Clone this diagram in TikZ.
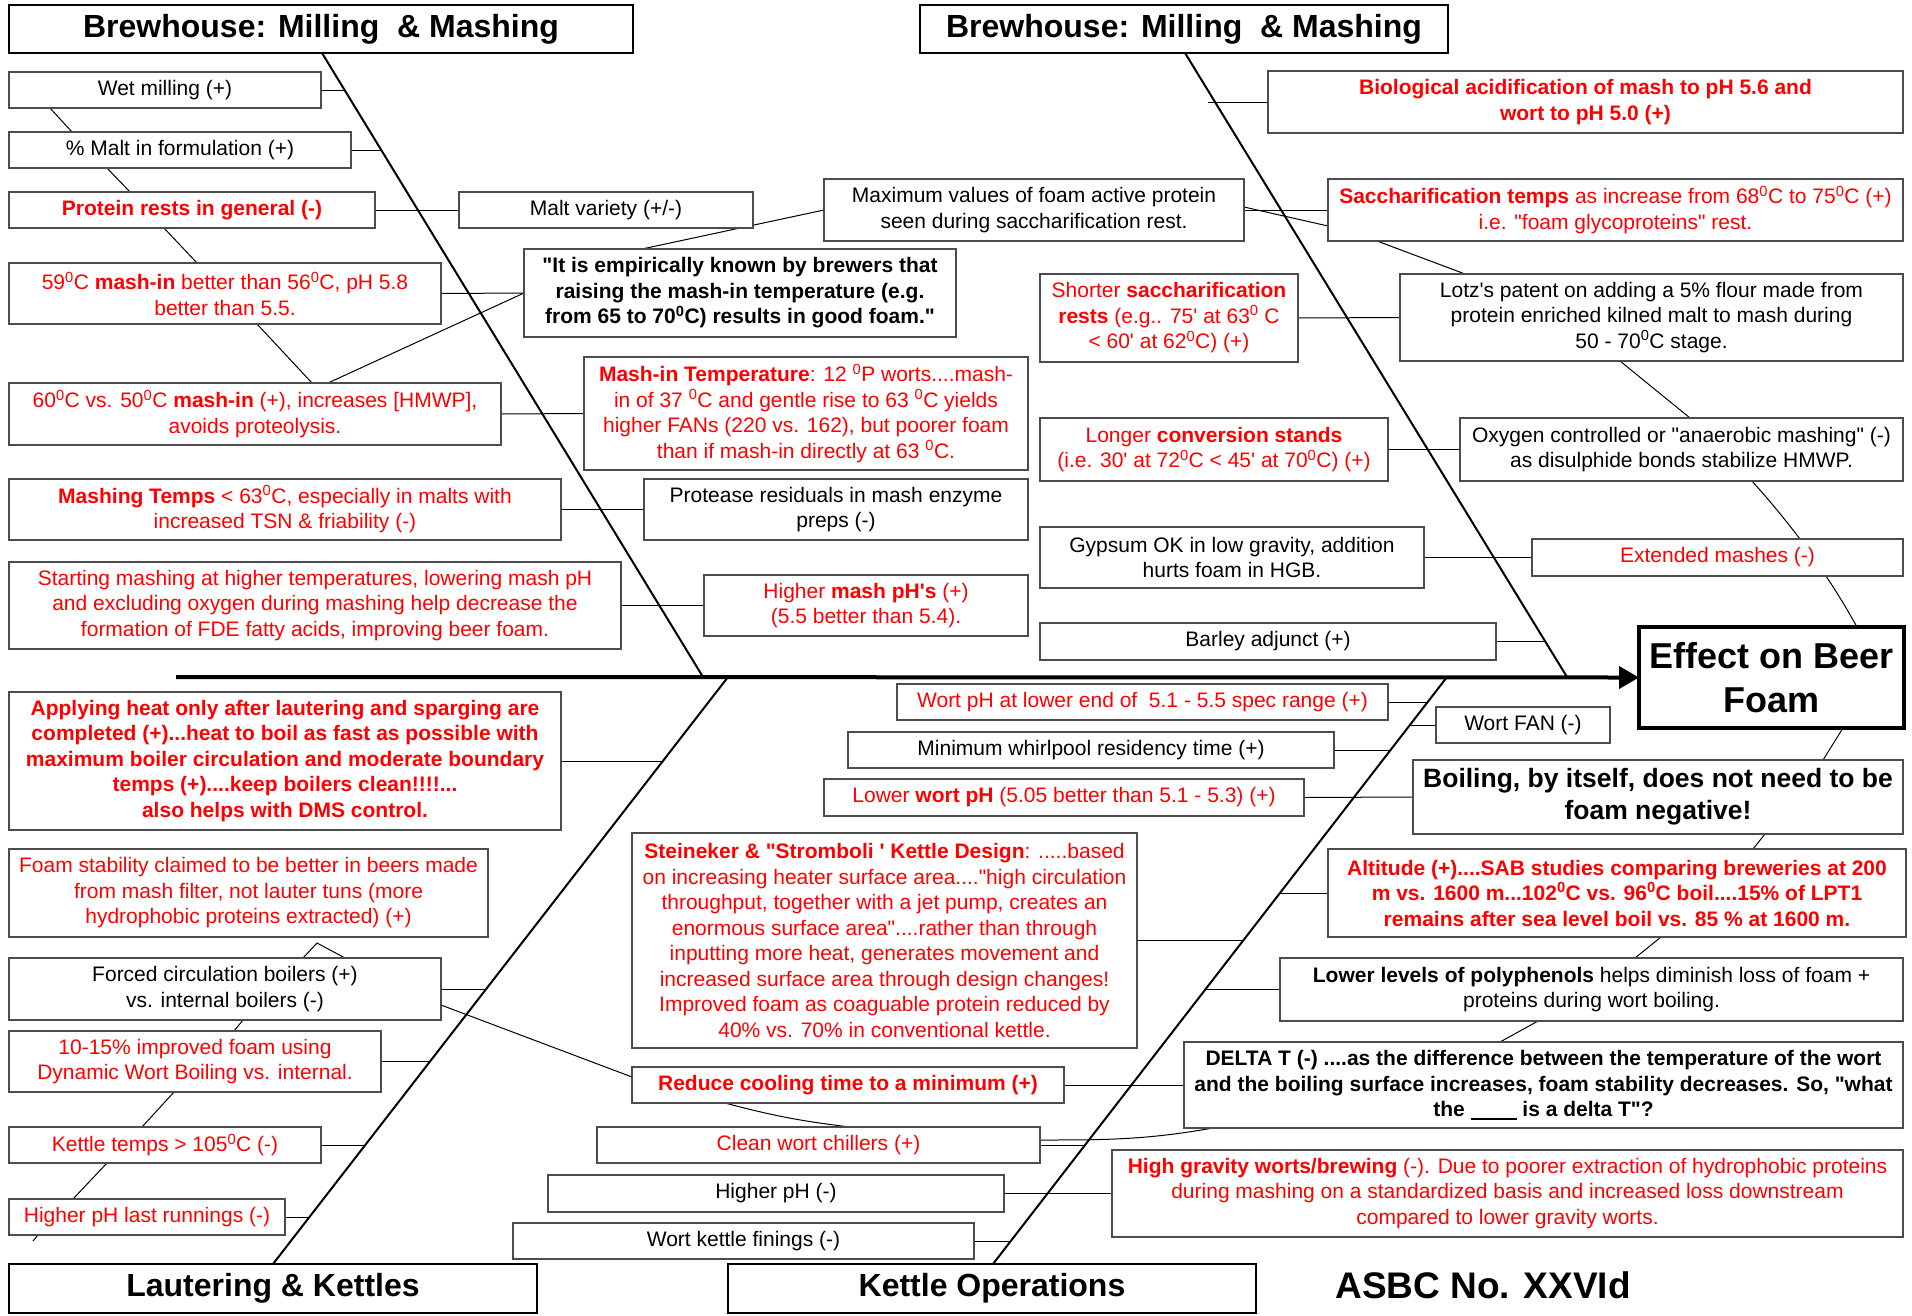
\documentclass[tikz,border=0pt]{standalone}
\usepackage{fontspec}
\setmainfont{Liberation Sans}[Ligatures=TeXOff]
\usetikzlibrary{arrows.meta}
\pgfdeclarelayer{bg}
\pgfsetlayers{bg,main}
\newcommand\degz{\textsuperscript{0}}
\newcommand\fsn{\fontsize{21}{25.5}\selectfont}
\newcommand\fst{\fontsize{32}{38}\selectfont\bfseries}
\tikzset{
  box/.style={draw=black!70, line width=1.3pt, fill=white, inner sep=0pt, outer sep=0pt, align=center, font=\fsn, anchor=north west},
  rbox/.style={box, text=red},
  tbox/.style={draw=black, line width=2.2pt, fill=white, inner sep=0pt, outer sep=0pt, align=center, font=\fst, anchor=north west},
  conn/.style={draw=black, line width=1pt},
  bone/.style={draw=black, line width=2pt},
  spine/.style={draw=black, line width=4pt, -{Triangle[length=20pt,width=22pt]}}
}
\begin{document}
\begin{tikzpicture}[x=1pt,y=-1pt]
\useasboundingbox (0,0) rectangle (1912,1315);
% titles
\node[tbox, minimum width=624pt, minimum height=48pt] (t1) at (9,5) {Brewhouse: Milling\ \ \& Mashing};
\node[tbox, minimum width=528pt, minimum height=48pt] (t2) at (920,5) {Brewhouse: Milling\ \ \& Mashing};
\node[tbox, minimum width=528pt, minimum height=49pt] (t3) at (9,1264) {Lautering \& Kettles};
\node[tbox, minimum width=528pt, minimum height=49pt] (t4) at (728,1264) {Kettle Operations};
% upper left
\node[box, minimum width=312pt, minimum height=36pt] (wet) at (9,72) {Wet milling (+)};
\node[box, minimum width=342pt, minimum height=36pt] (malt) at (9,132) {\% Malt in formulation (+)};
\node[rbox, font=\fsn\bfseries, minimum width=366pt, minimum height=36pt] (prot) at (9,192) {Protein rests in general (-)};
\node[rbox, minimum width=432pt, minimum height=61pt] (m59) at (9,263) {59\degz C \textbf{mash-in} better than 56\degz C, pH 5.8\\better than 5.5.};
\node[rbox, minimum width=492pt, minimum height=62pt] (m60) at (9,383) {60\degz C vs. 50\degz C \textbf{mash-in} (+), increases [HMWP],\\avoids proteolysis.};
\node[rbox, minimum width=552pt, minimum height=61pt] (mtemps) at (9,479) {\textbf{Mashing Temps} < 63\degz C, especially in malts with\\increased TSN \& friability (-)};
\node[rbox, minimum width=612pt, minimum height=87pt] (start) at (9,562) {Starting mashing at higher temperatures, lowering mash pH\\and excluding oxygen during mashing help decrease the\\formation of FDE fatty acids, improving beer foam.};
\node[box, minimum width=294pt, minimum height=36pt] (mvar) at (459,192) {Malt variety (+/-)};
\node[box, font=\fsn\bfseries, minimum width=432pt, minimum height=88pt] (quote) at (524,249) {"It is empirically known by brewers that\\raising the mash-in temperature (e.g.\\from 65 to 70\degz C) results in good foam."};
\node[box, minimum width=420pt, minimum height=62pt] (maxv) at (824,179) {Maximum values of foam active protein\\seen during saccharification rest.};
\node[rbox, minimum width=444pt, minimum height=113pt] (mashin) at (584,357) {\textbf{Mash-in Temperature}: 12 \degz P worts....mash-\\in of 37 \degz C and gentle rise to 63 \degz C yields\\higher FANs (220 vs. 162), but poorer foam\\than if mash-in directly at 63 \degz C.};
\node[box, minimum width=384pt, minimum height=61pt] (prote) at (644,479) {Protease residuals in mash enzyme\\preps (-)};
\node[rbox, minimum width=324pt, minimum height=61pt] (hiph) at (704,575) {Higher \textbf{mash pH's} (+)\\(5.5 better than 5.4).};
% upper right
\node[rbox, font=\fsn\bfseries, minimum width=635pt, minimum height=62pt] (bio) at (1268,71) {Biological acidification of mash to pH 5.6 and\\wort to pH 5.0 (+)};
\node[rbox, minimum width=575pt, minimum height=62pt] (sacch) at (1328,179) {\textbf{Saccharification temps} as increase from 68\degz C to 75\degz C (+)\\i.e. "foam glycoproteins" rest.};
\node[rbox, minimum width=258pt, minimum height=88pt] (short) at (1040,274) {Shorter \textbf{saccharification}\\\textbf{rests} (e.g.. 75' at 63\degz\ C\\< 60' at 62\degz C) (+)};
\node[box, minimum width=503pt, minimum height=87pt] (lotz) at (1400,274) {Lotz's patent on adding a 5\% flour made from\\protein enriched kilned malt to mash during\\50 - 70\degz C stage.};
\node[rbox, minimum width=348pt, minimum height=63pt] (longer) at (1040,418) {Longer \textbf{conversion stands}\\(i.e. 30' at 72\degz C < 45' at 70\degz C) (+)};
\node[box, minimum width=443pt, minimum height=63pt] (oxy) at (1460,418) {Oxygen controlled or "anaerobic mashing" (-)\\as disulphide bonds stabilize HMWP.};
\node[box, minimum width=384pt, minimum height=61pt] (gyp) at (1040,527) {Gypsum OK in low gravity, addition\\hurts foam in HGB.};
\node[rbox, minimum width=371pt, minimum height=37pt] (ext) at (1532,539) {Extended mashes (-)};
\node[box, minimum width=456pt, minimum height=37pt] (barley) at (1040,623) {Barley adjunct (+)};
\node[box, draw=black, line width=3.5pt, font=\fontsize{36}{44}\selectfont\bfseries, minimum width=265pt, minimum height=101pt] (effect) at (1639,627) {Effect on Beer\\Foam};
% lower left
\node[rbox, font=\fsn\bfseries, minimum width=552pt, minimum height=138pt] (apply) at (9,692) {Applying heat only after lautering and sparging are\\completed (+)...heat to boil as fast as possible with\\maximum boiler circulation and moderate boundary\\temps (+)....keep boilers clean!!!!...\\also helps with DMS control.};
\node[rbox, minimum width=479pt, minimum height=88pt] (foamst) at (9,849) {Foam stability claimed to be better in beers made\\from mash filter, not lauter tuns (more\\hydrophobic proteins extracted) (+)};
\node[box, minimum width=432pt, minimum height=62pt] (forced) at (9,958) {Forced circulation boilers (+)\\vs. internal boilers (-)};
\node[rbox, minimum width=372pt, minimum height=61pt] (dyn) at (9,1031) {10-15\% improved foam using\\Dynamic Wort Boiling vs. internal.};
\node[rbox, minimum width=312pt, minimum height=36pt] (ktemp) at (9,1127) {Kettle temps > 105\degz C (-)};
\node[rbox, minimum width=276pt, minimum height=36pt] (lastrun) at (9,1199) {Higher pH last runnings (-)};
% lower middle
\node[rbox, minimum width=491pt, minimum height=36pt] (wph) at (897,684) {Wort pH at lower end of\ \ 5.1 - 5.5 spec range (+)};
\node[box, minimum width=486pt, minimum height=36pt] (whirl) at (848,732) {Minimum whirlpool residency time (+)};
\node[rbox, minimum width=480pt, minimum height=37pt] (lowph) at (824,779) {Lower \textbf{wort pH} (5.05 better than 5.1 - 5.3) (+)};
\node[rbox, minimum width=505pt, minimum height=215pt] (stein) at (632,833) {\textbf{Steineker \& "Stromboli ' Kettle Design}: .....based\\on increasing heater surface area...."high circulation\\throughput, together with a jet pump, creates an\\enormous surface area"....rather than through\\inputting more heat, generates movement and\\increased surface area through design changes!\\Improved foam as coaguable protein reduced by\\40\% vs. 70\% in conventional kettle.};
\node[rbox, font=\fsn\bfseries, minimum width=432pt, minimum height=36pt] (reduce) at (632,1067) {Reduce cooling time to a minimum (+)};
\node[rbox, minimum width=443pt, minimum height=36pt] (clean) at (597,1127) {Clean wort chillers (+)};
\node[box, minimum width=456pt, minimum height=37pt] (hph) at (548,1175) {Higher pH (-)};
\node[box, minimum width=461pt, minimum height=36pt] (fining) at (513,1223) {Wort kettle finings (-)};
% lower right
\node[box, minimum width=174pt, minimum height=36pt] (fan) at (1436,707) {Wort FAN (-)};
\node[box, font=\fontsize{26.5}{32}\selectfont\bfseries, minimum width=490pt, minimum height=74pt] (boil) at (1413,760) {Boiling, by itself, does not need to be\\foam negative!};
\node[rbox, font=\fsn\bfseries, minimum width=578pt, minimum height=88pt] (alt) at (1328,849) {Altitude (+)....SAB studies comparing breweries at 200\\m vs. 1600 m...102\degz C vs. 96\degz C boil....15\% of LPT1\\remains after sea level boil vs. 85 \% at 1600 m.};
\node[box, minimum width=623pt, minimum height=63pt] (poly) at (1280,958) {\textbf{Lower levels of polyphenols} helps diminish loss of foam +\\proteins during wort boiling.};
\node[box, font=\fsn\bfseries, minimum width=719pt, minimum height=86pt] (delta) at (1184,1042) {DELTA T (-) ....as the difference between the temperature of the wort\\and the boiling surface increases, foam stability decreases. So, "what\\the \rule[-3pt]{46pt}{1.8pt} is a delta T"?};
\node[rbox, minimum width=791pt, minimum height=87pt] (hg) at (1112,1150) {\textbf{High gravity worts/brewing} (-). Due to poorer extraction of hydrophobic proteins\\during mashing on a standardized basis and increased loss downstream\\compared to lower gravity worts.};
\node[font=\fontsize{37}{44}\selectfont\bfseries] (asbc) at (1483,1285) {ASBC No. XXVId};
% coordinates
\coordinate (s1) at (703,677);
\coordinate (s2) at (1567,677);
\coordinate (s3) at (728,677);
\coordinate (s4) at (1447,677);
\coordinate (spst) at (176,677);
\coordinate (bw) at (345,90);
\coordinate (bm) at (381,150);
\coordinate (bb) at (1208,102);
\coordinate (bba) at (1545,641.5);
\coordinate (ba) at (663,761);
\coordinate (bf) at (486,989);
\coordinate (bd) at (430,1061.5);
\coordinate (bk) at (365,1145);
\coordinate (bl) at (309,1217);
\coordinate (bp) at (1428,702);
\coordinate (bfan) at (1410,725);
\coordinate (bwh) at (1390.5,750);
\coordinate (bst) at (1243,940.5);
\coordinate (bal) at (1280,893);
\coordinate (bpo) at (1205,989.5);
\coordinate (bcl) at (1085,1145);
\coordinate (bfi) at (1011,1241);
\coordinate (pk) at (317,943);
\coordinate (tl) at (33,1241);
\begin{pgfonlayer}{bg}
\fill[white] (0,0) rectangle (1912,1315);
% bones
\draw[bone] ([xshift=313pt]t1.south west) -- (s1);
\draw[bone] ([xshift=265pt]t2.south west) -- (s2);
\draw[bone] (s3) -- ([xshift=264pt]t3.north west);
\draw[bone] (s4) -- ([xshift=265pt]t4.north west);
\draw[spine] (spst) -- (effect.west);
% upper left
\draw[conn] (wet.east) -- (bw);
\draw[conn] (malt.east) -- (bm);
\draw[conn] (prot.east) -- (mvar.west);
\draw[conn] (m59.east) -- (quote.west);
\draw[conn] (m60.east) -- (mashin.west);
\draw[conn] (mtemps.east) -- (prote.west);
\draw[conn] (start.east) -- (hiph.west);
\draw[conn] ([xshift=41pt]wet.south west) -- ([xshift=63pt]malt.north west);
\draw[conn] ([xshift=98pt]malt.south west) -- ([xshift=121pt]prot.north west);
\draw[conn] ([xshift=155pt]prot.south west) -- ([xshift=188pt]m59.north west);
\draw[conn] ([xshift=248pt]m59.south west) -- ([xshift=303pt]m60.north west);
\draw[conn] ([xshift=319pt]m60.north west) -- (quote.west);
\draw[conn] ([xshift=118pt]quote.north west) -- (maxv.west);
% upper right
\draw[conn] (maxv.east) -- (sacch.west);
\draw[conn] ([yshift=3pt]maxv.east) -- ([yshift=-16pt]sacch.west);
\draw[conn] ([xshift=49pt]sacch.south west) -- ([xshift=65pt]lotz.north west);
\draw[conn] (bb) -- (bio.west);
\draw[conn] (short.east) -- (lotz.west);
\draw[conn] ([xshift=220pt]lotz.south west) -- ([xshift=230pt]oxy.north west);
\draw[conn] (longer.east) -- (oxy.west);
\draw[conn] ([xshift=292pt]oxy.south west) to[bend left=2] ([xshift=268pt]ext.north west);
\draw[conn] ([xshift=294pt]ext.south west) to[bend left=2] ([xshift=218pt]effect.north west);
\draw[conn] (gyp.east) -- (ext.west);
\draw[conn] (barley.east) -- (bba);
% lower right
\draw[conn] ([xshift=204pt]effect.south west) -- ([xshift=410pt]boil.north west);
\draw[conn] ([xshift=352pt]boil.south west) -- ([xshift=425pt]alt.north west);
\draw[conn] ([xshift=333pt]alt.south west) -- ([xshift=355pt]poly.north west);
\draw[conn] ([xshift=258pt]poly.south west) -- ([xshift=316pt]delta.north west);
\draw[conn] (alt.west) -- (bal);
\draw[conn] (poly.west) -- (bpo);
\draw[conn] (delta.west) -- (reduce.east);
\draw[conn] (stein.east) -- (bst);
\draw[conn] (wph.east) -- (bp);
\draw[conn] (bfan) -- (fan.west);
\draw[conn] (whirl.east) -- (bwh);
\draw[conn] (lowph.east) -- (boil.west);
\draw[conn] (clean.east) -- (bcl);
\draw[conn] ([yshift=5pt]clean.east) to[out=0,in=190] ([xshift=29pt]delta.south west);
\draw[conn] (hph.east) -- (hg.west);
\draw[conn] (fining.east) -- (bfi);
\draw[conn] ([xshift=93pt]reduce.south west) to[bend right=4] ([xshift=253pt]clean.north west);
% lower left
\draw[conn] (apply.east) -- (ba);
\draw[conn] ([xshift=294pt]forced.north west) -- (pk) -- ([xshift=336pt]forced.north west);
\draw[conn] (forced.east) -- (bf);
\draw[conn] ([yshift=-16pt]forced.east) -- ([yshift=8pt]reduce.west);
\draw[conn] ([xshift=234pt]forced.south west) -- ([xshift=225pt]dyn.north west);
\draw[conn] (dyn.east) -- (bd);
\draw[conn] ([xshift=165pt]dyn.south west) -- ([xshift=133pt]ktemp.north west);
\draw[conn] (ktemp.east) -- (bk);
\draw[conn] ([xshift=98pt]ktemp.south west) -- ([xshift=64pt]lastrun.north west);
\draw[conn] (lastrun.east) -- (bl);
\draw[conn] ([xshift=29pt]lastrun.south west) -- (tl);
\end{pgfonlayer}
\end{tikzpicture}
\end{document}
